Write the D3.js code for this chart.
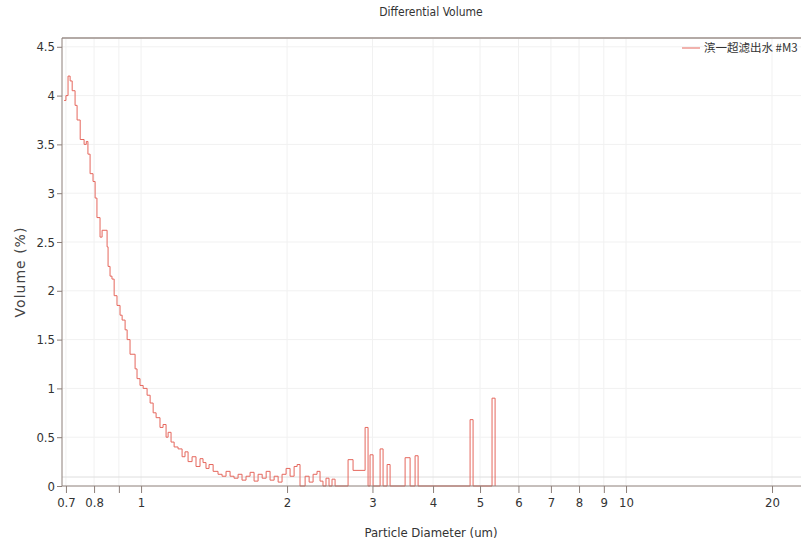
<!DOCTYPE html>
<html>
<head>
<meta charset="utf-8">
<script src="https://cdn.jsdelivr.net/npm/d3@7"></script>
<style>
  body { margin: 0; background: #fff; }
  svg { display: block; }
  .tick text { font-family: "Liberation Sans Narrow", "DejaVu Sans Condensed", sans-serif; font-size: 13px; fill: #333; }
</style>
</head>
<body>
<script>
// step start diameters (um) and differential volume (%)
var diam = [0.694, 0.700, 0.707, 0.714, 0.721, 0.731, 0.738, 0.749, 0.763, 0.771,
    0.777, 0.785, 0.796, 0.804, 0.811, 0.823, 0.831, 0.851, 0.855, 0.863,
    0.871, 0.880, 0.892, 0.905, 0.914, 0.927, 0.936, 0.949, 0.972, 0.981,
    0.995, 1.010, 1.029, 1.044, 1.059, 1.074, 1.094, 1.110, 1.126, 1.137,
    1.153, 1.170, 1.192, 1.215, 1.232, 1.250, 1.274, 1.298, 1.323, 1.342,
    1.361, 1.381, 1.408, 1.441, 1.469, 1.497, 1.526, 1.555, 1.585, 1.615,
    1.646, 1.678, 1.710, 1.743, 1.777, 1.811, 1.845, 1.881, 1.917, 1.953,
    1.991, 2.029, 2.068, 2.098, 2.127, 2.179, 2.221, 2.263, 2.306, 2.339,
    2.372, 2.406, 2.441, 2.476, 2.512, 2.672, 2.736, 2.897, 2.938, 2.966,
    3.009, 3.111, 3.155, 3.216, 3.262, 3.503, 3.587, 3.673, 3.726, 4.769,
    4.837, 5.293, 5.370]
var vol = [3.95, 4.00, 4.20, 4.15, 4.05, 3.90, 3.75, 3.55, 3.50, 3.53,
    3.40, 3.20, 3.12, 2.95, 2.75, 2.55, 2.62, 2.45, 2.25, 2.15,
    2.12, 1.95, 1.85, 1.75, 1.70, 1.60, 1.50, 1.35, 1.20, 1.10,
    1.03, 1.00, 0.93, 0.85, 0.75, 0.70, 0.60, 0.63, 0.50, 0.55,
    0.45, 0.40, 0.38, 0.30, 0.35, 0.25, 0.30, 0.20, 0.28, 0.24,
    0.18, 0.22, 0.15, 0.12, 0.10, 0.15, 0.10, 0.08, 0.12, 0.06,
    0.10, 0.14, 0.05, 0.12, 0.08, 0.15, 0.06, 0.10, 0.04, 0.12,
    0.18, 0.10, 0.20, 0.22, 0.00, 0.10, 0.04, 0.12, 0.15, 0.05,
    0.00, 0.08, 0.00, 0.07, 0.00, 0.27, 0.16, 0.60, 0.00, 0.32,
    0.00, 0.38, 0.00, 0.22, 0.00, 0.29, 0.00, 0.31, 0.00, 0.68,
    0.00, 0.90, 0.00]

var xTicks = [0.7, 0.8, 0.9, 1, 2, 3, 4, 5, 6, 7, 8, 9, 10, 20]
var xTickLabels = ["0.7", "0.8", "", "1", "2", "3", "4", "5", "6", "7", "8", "9", "10", "20"]
var yTicks = [0, 0.5, 1, 1.5, 2, 2.5, 3, 3.5, 4, 4.5]
var yTickLabels = ["0", "0.5", "1", "1.5", "2", "2.5", "3", "3.5", "4", "4.5"]
var seriesName = "滨一超滤出水 #M3"

var width = 801, height = 542
var mLeft = 62, mRight = 801, mTop = 38, mBottom = 486

var x = d3.scaleLog().domain([0.687, 22.95]).range([mLeft, mRight])
var y = d3.scaleLinear().domain([0, 4.59]).range([mBottom, mTop])

var svg = d3.select("body").append("svg")
    .attr("width", width)
    .attr("height", height)

var narrow = '"Liberation Sans Narrow", "DejaVu Sans Condensed", sans-serif'

// faint grid
svg.append("g").selectAll("line")
    .data(xTicks)
    .enter().append("line")
    .attr("x1", function (d) { return x(d) })
    .attr("x2", function (d) { return x(d) })
    .attr("y1", mTop)
    .attr("y2", mBottom)
    .attr("stroke", "#f1f1f1")
svg.append("g").selectAll("line")
    .data(yTicks.slice(1))
    .enter().append("line")
    .attr("x1", mLeft)
    .attr("x2", mRight)
    .attr("y1", function (d) { return y(d) })
    .attr("y2", function (d) { return y(d) })
    .attr("stroke", "#f1f1f1")

// light line just above the baseline
svg.append("line")
    .attr("x1", mLeft).attr("x2", mRight)
    .attr("y1", mBottom - 9).attr("y2", mBottom - 9)
    .attr("stroke", "#dedede")

// top frame
svg.append("line")
    .attr("x1", mLeft).attr("x2", mRight)
    .attr("y1", mTop).attr("y2", mTop)
    .attr("stroke", "#b3aaa6")
    .attr("stroke-width", 2)

var valueline = d3.line()
    .x(function (d, i) { return x(diam[i]) })
    .y(function (d) { return y(d) })
    .curve(d3.curveStepAfter)

svg.append("path")
    .attr("d", valueline(vol))
    .attr("fill", "none")
    .attr("stroke", "#e5675d")
    .attr("stroke-width", 1)

var xAxis = d3.axisBottom(x)
    .tickValues(xTicks)
    .tickFormat(function (d, i) { return xTickLabels[i] })
    .tickSize(7)
    .tickPadding(5)

var yAxis = d3.axisLeft(y)
    .tickValues(yTicks)
    .tickFormat(function (d, i) { return yTickLabels[i] })
    .tickSize(5)
    .tickPadding(2)

var gx = svg.append("g")
    .attr("transform", "translate(0," + mBottom + ")")
    .call(xAxis)
gx.select(".domain").attr("stroke", "#8c7f79").attr("d", "M" + mLeft + ",0H" + mRight)
gx.selectAll(".tick line").attr("stroke", "#8c7f79")

var gy = svg.append("g")
    .attr("transform", "translate(" + mLeft + ",0)")
    .call(yAxis)
gy.select(".domain").attr("stroke", "#8c7f79").attr("d", "M0," + mTop + "V" + mBottom)
gy.selectAll(".tick line").attr("stroke", "#8c7f79")

// title and axis labels
svg.append("text")
    .attr("x", 431).attr("y", 16)
    .attr("text-anchor", "middle")
    .style("font-family", narrow)
    .style("font-size", "12px")
    .attr("fill", "#333")
    .text("Differential Volume")

svg.append("text")
    .attr("x", 431).attr("y", 537)
    .attr("text-anchor", "middle")
    .style("font-family", narrow)
    .style("font-size", "13px")
    .attr("fill", "#333")
    .text("Particle Diameter (um)")

svg.append("text")
    .attr("transform", "translate(25,272) rotate(-90)")
    .attr("text-anchor", "middle")
    .style("font-family", "DejaVu Sans, sans-serif")
    .style("font-size", "14px")
    .style("letter-spacing", "1px")
    .attr("fill", "#444")
    .text("Volume (%)")

// legend
var lg = svg.append("g").attr("transform", "translate(682,48)")
lg.append("line")
    .attr("x1", 0).attr("x2", 18)
    .attr("stroke", "#e5675d")
lg.append("text")
    .attr("x", 22).attr("dy", "0.35em")
    .style("font-family", "'Noto Sans CJK SC', sans-serif")
    .style("font-size", "11.5px")
    .attr("fill", "#333")
    .text(seriesName)
</script>
</body>
</html>
